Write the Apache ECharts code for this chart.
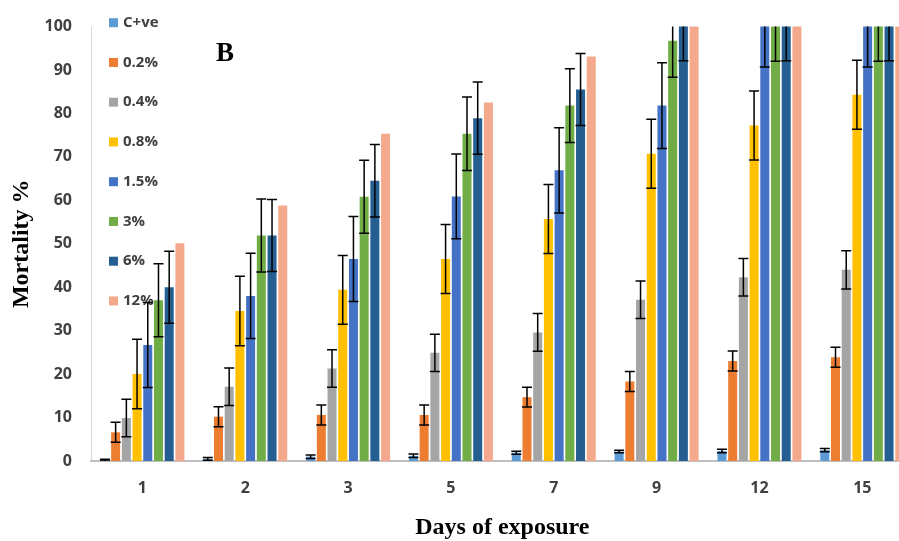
<!DOCTYPE html>
<html>
<head>
<meta charset="utf-8">
<script src="https://cdn.jsdelivr.net/npm/echarts@6/dist/echarts.min.js"></script>
<style>html,body{margin:0;padding:0;background:#fff;}#c{width:899px;height:541px;}</style>
</head>
<body>
<div id="c"></div>
<script>
var categories = ['1', '2', '3', '5', '7', '9', '12', '15'];
var seriesNames = ['C+ve', '0.2%', '0.4%', '0.8%', '1.5%', '3%', '6%', '12%'];
var yTicks = [0, 10, 20, 30, 40, 50, 60, 70, 80, 90, 100];

var cPos = [0.2, 0.5, 1.0, 1.2, 1.9, 2.2, 2.3, 2.5];
var cPosErr = [0.2, 0.3, 0.4, 0.4, 0.35, 0.3, 0.4, 0.35];
var p02 = [6.6, 10.2, 10.6, 10.6, 14.7, 18.3, 23.0, 23.9];
var p02Err = [2.3, 2.3, 2.3, 2.3, 2.3, 2.3, 2.3, 2.3];
var p04 = [9.9, 17.1, 21.3, 24.9, 29.6, 37.1, 42.3, 44.0];
var p04Err = [4.3, 4.3, 4.3, 4.3, 4.35, 4.3, 4.3, 4.4];
var p08 = [20.0, 34.5, 39.4, 46.5, 55.7, 70.7, 77.2, 84.3];
var p08Err = [8.0, 8.0, 7.9, 7.95, 7.95, 7.95, 7.95, 7.95];
var p15 = [26.7, 38.0, 46.5, 60.9, 66.9, 81.8, 100, 100];
var p15Err = [9.8, 9.8, 9.8, 9.75, 9.8, 9.85, 9.3, 9.3];
var p3 = [37.0, 51.9, 60.8, 75.3, 81.8, 96.7, 100, 100];
var p3Err = [8.4, 8.4, 8.4, 8.45, 8.5, 8.4, 8.0, 8.0];
var p6 = [40.0, 51.9, 64.5, 78.9, 85.5, 100, 100, 100];
var p6Err = [8.3, 8.3, 8.35, 8.3, 8.3, 7.9, 7.9, 7.9];
var p12 = [50.1, 58.8, 75.3, 82.5, 93.1, 100, 100, 100];
var p12Err = null;

var values = [cPos, p02, p04, p08, p15, p3, p6, p12];
var errors = [cPosErr, p02Err, p04Err, p08Err, p15Err, p3Err, p6Err, p12Err];
var colors = ['#5B9BD5', '#ED7D31', '#A5A5A5', '#FFC000', '#4472C4', '#70AD47', '#255E91', '#F4A98C'];

var BAR_W = 9, GAP = 0.19;
var pitch = BAR_W * (1 + GAP);
var nS = seriesNames.length;

var series = [];
seriesNames.forEach(function (name, s) {
  series.push({
    name: name, type: 'bar', data: values[s], barWidth: BAR_W, barGap: (GAP * 100) + '%',
    itemStyle: { color: colors[s] }, z: 2
  });
});
seriesNames.forEach(function (name, s) {
  if (!errors[s]) return;
  var d = values[s].map(function (v, i) { return [i, v, errors[s][i]]; });
  series.push({
    name: name + ' err', type: 'custom', data: d, clip: true, z: 5,
    renderItem: (function (si) {
      return function (params, api) {
        var i = api.value(0), v = api.value(1), e = api.value(2);
        var off = (si - (nS - 1) / 2) * pitch;
        var hi = api.coord([i, v + e]);
        var lo = api.coord([i, Math.max(v - e, 0)]);
        var x = hi[0] + off;
        var hw = 5;
        var st = { stroke: '#000', lineWidth: 1.5 };
        return { type: 'group', children: [
          { type: 'line', shape: { x1: x, y1: hi[1], x2: x, y2: lo[1] }, style: st },
          { type: 'line', shape: { x1: x - hw, y1: hi[1], x2: x + hw, y2: hi[1] }, style: st },
          { type: 'line', shape: { x1: x - hw, y1: lo[1], x2: x + hw, y2: lo[1] }, style: st }
        ]};
      };
    })(s)
  });
});

var chart = echarts.init(document.getElementById('c'), null, { renderer: 'canvas' });
chart.setOption({
  animation: false,
  backgroundColor: '#fff',
  title: {
    text: 'B', left: 211, top: 36,
    textStyle: { fontFamily: 'Liberation Serif', fontWeight: 'bold', fontSize: 27, color: '#000' }
  },
  legend: {
    data: seriesNames, orient: 'vertical', left: 104, top: 10.2, padding: 5,
    itemWidth: 9, itemHeight: 9, itemGap: 24.75, icon: 'rect',
    textStyle: { fontFamily: 'Open Sans', fontWeight: 'bold', fontSize: 15, color: '#404040', lineHeight: 15 }
  },
  grid: { left: 91, right: -14.7, top: 26.5, bottom: 80, outerBoundsMode: 'none', containLabel: false },
  xAxis: {
    type: 'category', data: categories,
    axisLine: { lineStyle: { color: '#BFBFBF', width: 2 } },
    axisTick: { show: false },
    axisLabel: { margin: 19, fontFamily: 'Open Sans', fontWeight: 'bold', fontSize: 16, color: '#404040' },
    name: 'Days of exposure', nameLocation: 'middle', nameGap: 55,
    nameTextStyle: { fontFamily: 'Liberation Serif', fontWeight: 'bold', fontSize: 24, color: '#000' }
  },
  yAxis: {
    type: 'value', min: yTicks[0], max: yTicks[yTicks.length - 1], interval: yTicks[1] - yTicks[0],
    splitLine: { show: false },
    axisLine: { show: true, lineStyle: { color: '#D9D9D9', width: 1 } },
    axisTick: { show: false },
    axisLabel: { margin: 19, fontFamily: 'Open Sans', fontWeight: 'bold', fontSize: 16, color: '#404040' },
    name: 'Mortality %', nameLocation: 'middle', nameGap: 57, nameRotate: 90,
    nameTextStyle: { fontFamily: 'Liberation Serif', fontWeight: 'bold', fontSize: 24, color: '#000' }
  },
  series: series
});
</script>
</body>
</html>
